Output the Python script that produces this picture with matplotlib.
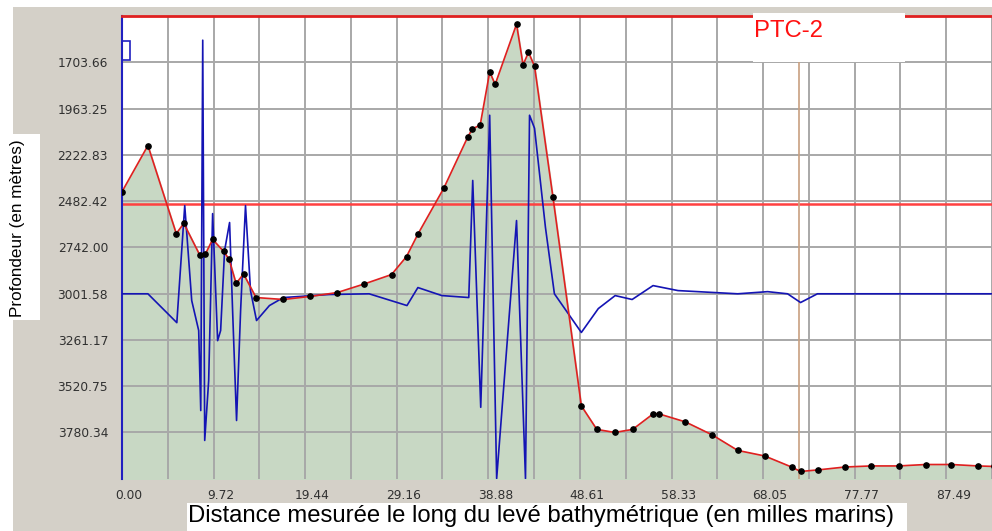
import numpy as np
import matplotlib.pyplot as plt
import matplotlib.transforms as mtransforms
from matplotlib.patches import Rectangle

# Profil bathymetrique (distance en milles marins, profondeur en metres)
profil_dist = [0.00, 2.75, 5.76, 6.56, 8.25, 8.83, 9.62, 10.79, 11.37, 12.11,
               12.90, 14.23, 17.13, 19.94, 22.85, 25.70, 28.61, 30.20, 31.41,
               34.16, 36.70, 37.18, 38.02, 39.03, 39.61, 41.88, 42.57, 43.15,
               43.79, 45.74, 48.76, 50.40, 52.30, 54.20, 56.37, 57.01, 59.81,
               62.66, 65.36, 68.22, 71.07, 72.03, 73.93, 76.73, 79.53, 82.44,
               85.30, 88.05, 90.85, 92.60]
profil_prof = [2430, 2171, 2665, 2608, 2785, 2782, 2698, 2765, 2810, 2945,
               2892, 3024, 3035, 3018, 2996, 2948, 2895, 2794, 2668,
               2410, 2123, 2078, 2056, 1758, 1828, 1490, 1718, 1648,
               1726, 2459, 3632, 3764, 3781, 3764, 3677, 3677, 3722,
               3795, 3882, 3913, 3975, 4000, 3991, 3975, 3969, 3969,
               3961, 3961, 3969, 3972]

# Second trace (sondeur)
sonde_dist = [0.00, 2.75, 5.82, 6.66, 7.40, 8.14, 8.36, 8.57, 8.78, 9.20,
              9.62, 10.15, 10.47, 10.89, 11.42, 11.74, 12.16, 12.59, 13.11,
              13.64, 14.28, 15.65, 17.13, 22.00, 26.23, 30.25, 31.41, 33.95,
              36.81, 37.23, 38.08, 39.03, 39.77, 41.88, 42.83, 43.26, 43.79,
              44.95, 45.90, 48.76, 50.56, 52.35, 54.15, 56.37, 59.02, 65.36,
              68.53, 70.65, 72.03, 73.82, 92.60]
sonde_prof = [3003, 3003, 3165, 2508, 3041, 3209, 3658, 1580, 3826, 3490,
              2553, 3266, 3209, 2760, 2603, 3097, 3714, 3097, 2508,
              2985, 3153, 3069, 3024, 3007, 3003, 3069, 2968, 3013,
              3024, 2367, 3640, 2001, 4040, 2592, 4040, 2001, 2074,
              2631, 3003, 3220, 3086, 3013, 3035, 2957, 2985, 3003,
              2991, 3003, 3052, 3003, 3003]

x_ticks = [0.00, 9.72, 19.44, 29.16, 38.88, 48.61, 58.33, 68.05, 77.77, 87.49]
y_ticks = [1703.66, 1963.25, 2222.83, 2482.42, 2742.00, 3001.58, 3261.17,
           3520.75, 3780.34]
niveau_ref = 2500
repere_dist = 71.9

fig = plt.figure(figsize=(9.92, 5.31), dpi=100)
fig.patch.set_facecolor("white")
# fond gris de la fenetre
fig.patches.append(Rectangle((13 / 992, 0), 1, 1 - 7 / 531, transform=fig.transFigure,
                             facecolor="#d4d0c8", edgecolor="none", zorder=-5))

ax = fig.add_axes([122 / 992, 1 - 479.3 / 531, 1 - 122 / 992, (479.3 - 16) / 531])
ax.set_facecolor("white")
ax.set_xlim(0, 92.04)
ax.set_ylim(4044, 1444.08)

ax.fill_between(profil_dist, profil_prof, 4100, color="#c8d8c4", zorder=1)
ax.set_axisbelow("line")

ax.set_xticks(x_ticks)
ax.set_xticklabels([f"{v:.2f}" for v in x_ticks])
ax.set_xticks([v + 4.8606 for v in x_ticks], minor=True)
ax.set_yticks(y_ticks)
ax.set_yticklabels([f"{v:.2f}" for v in y_ticks])
ax.grid(True, which="both", color="#a8a8a8", linewidth=1.4)
ax.tick_params(which="both", length=0, labelsize=8.8, labelcolor="#303030")
ax.tick_params(axis="x", pad=7)
ax.tick_params(axis="y", pad=10)

# decalage des etiquettes de l'axe x vers la droite
decal = mtransforms.ScaledTranslation(7 / 100, 0, fig.dpi_scale_trans)
for lab in ax.get_xticklabels():
    lab.set_transform(lab.get_transform() + decal)

for s in ["right", "bottom"]:
    ax.spines[s].set_visible(False)
ax.spines["left"].set_color("#2020c0")
ax.spines["left"].set_linewidth(1.5)
ax.spines["top"].set_color("#e02020")
ax.spines["top"].set_linewidth(2)

ax.axhline(niveau_ref, color="#ff4040", linewidth=1.8, zorder=2)
ax.axvline(repere_dist, color="#c8a080", linewidth=1.2, zorder=2)

ax.plot(sonde_dist, sonde_prof, color="#1414b4", linewidth=1.2, zorder=3)
ax.plot(profil_dist, profil_prof, color="#e02020", linewidth=1.2, zorder=4,
        marker="o", markersize=3.8, markerfacecolor="black", markeredgecolor="black")

# petit cadre bleu en haut a gauche
ax.add_patch(Rectangle((0, 1 - 44 / 463.3), 8 / 870, 19 / 463.3, transform=ax.transAxes,
                       facecolor="none", edgecolor="#2020c0", linewidth=1.2, zorder=5,
                       clip_on=False))

# etiquette PTC-2
fig.patches.append(Rectangle((753 / 992, 1 - 62 / 531), 152 / 992, 49 / 531,
                             transform=fig.transFigure, facecolor="white",
                             edgecolor="none", zorder=10))
fig.text(754 / 992, 1 - 31 / 531, "PTC-2", color="#ff1010", fontsize=17.2,
         family="Liberation Sans", va="center", ha="left", zorder=11)

# titres des axes
fig.patches.append(Rectangle((0, 1 - 320 / 531), 40 / 992, 186 / 531,
                             transform=fig.transFigure, facecolor="white",
                             edgecolor="none", zorder=10))
fig.text(18 / 992, 1 - 228 / 531, "Profondeur (en mètres)", rotation=90,
         fontsize=12.3, family="Liberation Sans", va="center", ha="center", zorder=11)

fig.patches.append(Rectangle((187 / 992, 0), 720 / 992, 28 / 531,
                             transform=fig.transFigure, facecolor="white",
                             edgecolor="none", zorder=10))
fig.text(541 / 992, 1 - 516 / 531,
         "Distance mesurée le long du levé bathymétrique (en milles marins)",
         fontsize=17.2, family="Liberation Sans", va="center", ha="center", zorder=11)

fig.savefig("out.png", dpi=100)
